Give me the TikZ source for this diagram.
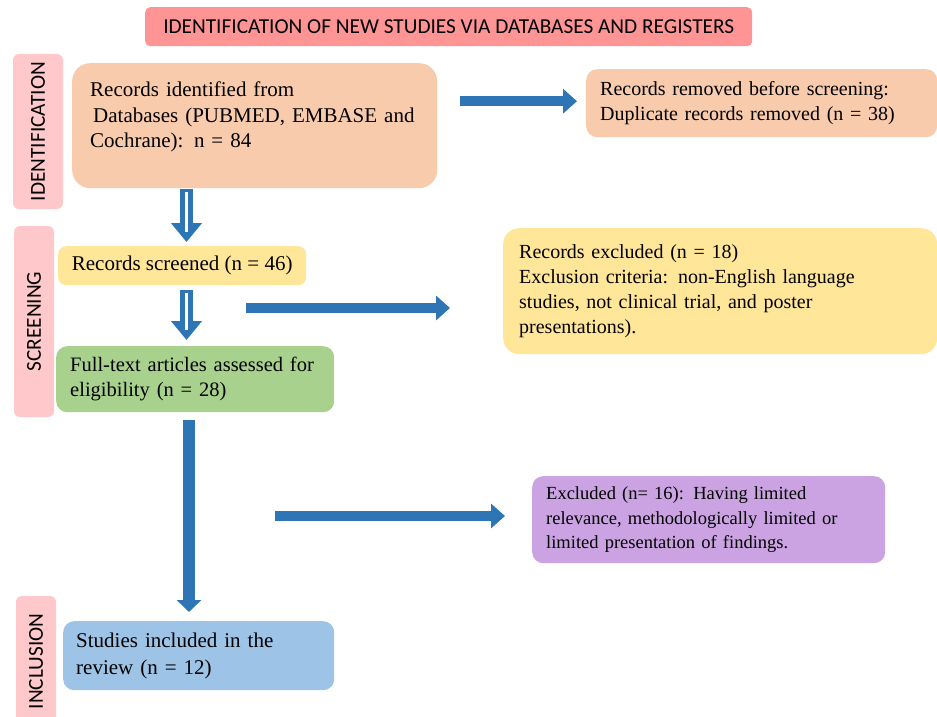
\documentclass[tikz,border=0pt]{standalone}
\usepackage{fontspec}
\setmainfont{Liberation Serif}
\newfontfamily\calib{Carlito}
\usetikzlibrary{arrows.meta,positioning,calc}
\definecolor{titlered}{HTML}{FF9494}
\definecolor{sidepink}{HTML}{FFC9CB}
\definecolor{peach}{HTML}{F8CBAD}
\definecolor{softyellow}{HTML}{FFE699}
\definecolor{softgreen}{HTML}{A9D18E}
\definecolor{softpurple}{HTML}{CBA3E3}
\definecolor{softblue}{HTML}{9DC3E6}
\definecolor{arrowblue}{HTML}{2E75B6}
\tikzset{box/.style={anchor=north west,rounded corners=11pt,inner ysep=0pt,align=left,font=\fontsize{21}{25.5}\selectfont},
side/.style={fill=sidepink,rounded corners=6pt,rotate=90,inner sep=0pt,font=\calib\fontsize{21.3}{22}\selectfont},
fat/.style={draw=arrowblue,line width=10pt,-{Triangle[length=14pt,width=24pt]}},
hol/.style={draw=arrowblue,line width=13pt,-{Triangle[length=19pt,width=30pt]}},
holstripe/.style={draw=white,line width=2.5pt}}

\begin{document}
\begin{tikzpicture}[x=1pt,y=-1pt]
	\useasboundingbox (0,0) rectangle (937,717);
	\node[fill=titlered,rounded corners=5pt,anchor=north west,minimum width=607,minimum height=39,inner sep=0pt,font=\calib\fontsize{21.3}{22}\selectfont]
	  (title) at (145,7) {IDENTIFICATION OF NEW STUDIES VIA DATABASES AND REGISTERS};
	\node[side,minimum width=155,minimum height=50] (sid) at (38,131.5) {IDENTIFICATION};
	\node[side,minimum width=191,minimum height=40] (sscr) at (34,321.5) {SCREENING};
	\node[side,minimum width=131,minimum height=40] (sinc) at (36,661.5) {INCLUSION};
	\node[box,fill=peach,rounded corners=18pt,minimum width=365,minimum height=125,inner xsep=18pt,text width=329pt]
	  (b1) at (72,63) {Records identified from\\\hspace{3pt}Databases (PUBMED, EMBASE and\\Cochrane): n = 84\rule[-22pt]{0pt}{0pt}};
	\node[box,fill=peach,minimum width=351,minimum height=68,inner xsep=14pt,text width=323pt,font=\fontsize{20}{25}\selectfont]
	  (b2) at (586,69) {Records removed before screening:\\Duplicate records removed (n = 38)};
	\node[box,fill=softyellow,rounded corners=8pt,minimum width=248,minimum height=39,inner xsep=6pt]
	  (b3) at (58,246) {Records screened (n = 46)};
	\node[box,fill=softgreen,minimum width=278,minimum height=66,inner xsep=14pt,text width=250pt,font=\fontsize{20.5}{25}\selectfont]
	  (b4) at (56,346) {Full-text articles assessed for\\eligibility (n = 28)};
	\node[box,fill=softyellow,rounded corners=16pt,minimum width=434,minimum height=126,inner xsep=16pt,text width=402pt,font=\fontsize{20}{25}\selectfont]
	  (b5) at (503,228) {Records excluded (n = 18)\\Exclusion criteria: non-English language\\studies, not clinical trial, and poster\\presentations).};
	\node[box,fill=softpurple,minimum width=353,minimum height=87,inner xsep=14pt,text width=325pt,font=\fontsize{18.5}{24.5}\selectfont]
	  (b6) at (532,476) {Excluded (n= 16): Having limited\\relevance, methodologically limited or\\limited presentation of findings.};
	\node[box,fill=softblue,minimum width=271,minimum height=69,inner xsep=13pt,text width=245pt,font=\fontsize{21}{27}\selectfont]
	  (b7) at (63,621) {Studies included in the\\review (n = 12)};
	\path (186.5,0) coordinate (ax)
	      (189,0) coordinate (bx)
	      (246,308) coordinate (s2a)
	      (450,308) coordinate (s2b)
	      (275,516) coordinate (s3a)
	      (505,516) coordinate (s3b);
	\draw[fat] ([xshift=-126pt,yshift=2pt]b2.west) -- ([xshift=-9pt,yshift=2pt]b2.west);
	\draw[fat] (s2a) -- (s2b);
	\draw[fat] (s3a) -- (s3b);
	\draw[hol,shorten <=1pt,shorten >=4pt] (b1.south -| ax) -- (b3.north -| ax);
	\draw[holstripe] ([yshift=-4pt]b1.south -| ax) -- ([yshift=14pt]b3.north -| ax);
	\draw[hol,shorten <=5pt,shorten >=6pt] (b3.south -| ax) -- (b4.north -| ax);
	\draw[holstripe] ([yshift=-8pt]b3.south -| ax) -- ([yshift=16pt]b4.north -| ax);
	\draw[draw=arrowblue,line width=12pt,-{Triangle[length=12pt,width=24pt]},shorten <=8pt,shorten >=9pt] (b4.south -| bx) -- (b7.north -| bx);
\end{tikzpicture}
\end{document}
